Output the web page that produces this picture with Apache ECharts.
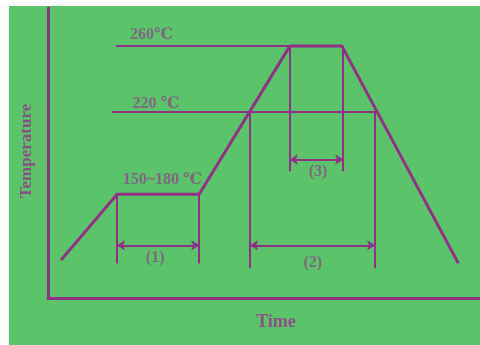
<!DOCTYPE html>
<html>
<head>
<meta charset="utf-8">
<script src="https://cdn.jsdelivr.net/npm/echarts@6/dist/echarts.min.js"></script>
<style>
  html, body { margin: 0; padding: 0; background: #fff; }
  #chart { width: 480px; height: 345px; }
</style>
</head>
<body>
<div id="chart"></div>
<script>
// reflow profile (time in arbitrary units, temperature in deg C)
const profileTime = [3, 16, 35, 56, 68, 95]
const profileTemp = [130, 170, 170, 260, 260, 128]

// horizontal guide lines: [startTime, endTime, temp]
const guideStart = [15.7, 14.8]
const guideEnd = [56, 76.3]
const guideTemp = [260, 220]

// vertical drop lines: time, top temp, bottom temp
const dropTime = [16, 35, 46.8, 75.7, 56, 68.3]
const dropTop = [170, 170, 220, 220, 260, 260]
const dropBottom = [128, 128, 125, 125, 184, 184]

// double arrows for the zones
const arrowStart = [16, 46.8, 56]
const arrowEnd = [35, 75.7, 68.3]
const arrowTemp = [139, 139, 191]

// text annotations
const noteText = ['260℃', '220 ℃', '150~180 ℃', '(1)', '(2)', '(3)']
const noteTime = [24, 25, 26.5, 24.8, 61.3, 62.5]
const noteTemp = [266.5, 224.7, 178.5, 131.5, 128.5, 183.5]

const lineColor = '#922f86'
const textColor = '#8a4f86'
const serif = '"Liberation Serif", "DejaVu Serif", serif'

const chart = echarts.init(document.getElementById('chart'))

const pairLine = (x1, x2, y1, y2) => [[x1, y1], [x2, y2]]

const option = {
  backgroundColor: '#ffffff',
  animation: false,
  graphic: [
    {
      type: 'rect',
      z: -10,
      shape: { x: 9, y: 6, width: 471, height: 339 },
      style: { fill: '#5bc46b' }
    },
    {
      type: 'text',
      x: 276,
      y: 322,
      style: {
        text: 'Time',
        font: 'bold 18px ' + serif,
        fill: textColor,
        align: 'center',
        verticalAlign: 'middle'
      }
    },
    {
      type: 'text',
      x: 27,
      y: 151,
      rotation: Math.PI / 2,
      style: {
        text: 'Temperature',
        font: 'bold 17px ' + serif,
        fill: textColor,
        align: 'center',
        verticalAlign: 'middle'
      }
    }
  ],
  grid: { left: 48, right: 0, top: 8, bottom: 47 },
  xAxis: {
    type: 'value',
    min: 0,
    max: 100,
    axisLine: { show: true, onZero: false, lineStyle: { color: lineColor, width: 3 } },
    axisTick: { show: false },
    axisLabel: { show: false },
    splitLine: { show: false }
  },
  yAxis: {
    type: 'value',
    min: 107,
    max: 283,
    axisLine: { show: true, onZero: false, lineStyle: { color: lineColor, width: 3 } },
    axisTick: { show: false },
    axisLabel: { show: false },
    splitLine: { show: false }
  },
  series: [
    {
      type: 'lines',
      coordinateSystem: 'cartesian2d',
      polyline: false,
      symbol: 'none',
      lineStyle: { color: lineColor, width: 2, opacity: 1 },
      data: guideTemp.map((t, i) => ({ coords: pairLine(guideStart[i], guideEnd[i], t, t) }))
    },
    {
      type: 'lines',
      coordinateSystem: 'cartesian2d',
      symbol: 'none',
      lineStyle: { color: lineColor, width: 2, opacity: 1 },
      data: dropTime.map((x, i) => ({ coords: pairLine(x, x, dropTop[i], dropBottom[i]) }))
    },
    {
      type: 'lines',
      coordinateSystem: 'cartesian2d',
      symbol: ['arrow', 'arrow'],
      symbolSize: 8,
      lineStyle: { color: lineColor, width: 2, opacity: 1 },
      data: arrowTemp.map((t, i) => ({ coords: pairLine(arrowStart[i], arrowEnd[i], t, t) }))
    },
    {
      type: 'line',
      symbol: 'none',
      lineStyle: { color: lineColor, width: 3 },
      data: profileTime.map((x, i) => [x, profileTemp[i]]),
      z: 5
    },
    {
      type: 'scatter',
      symbolSize: 0,
      label: {
        show: true,
        position: 'inside',
        formatter: p => p.name,
        color: textColor,
        fontFamily: serif,
        fontWeight: 'bold',
        fontSize: 16
      },
      data: noteText.map((n, i) => ({ name: n, value: [noteTime[i], noteTemp[i]] }))
    }
  ]
}

chart.setOption(option)
</script>
</body>
</html>
